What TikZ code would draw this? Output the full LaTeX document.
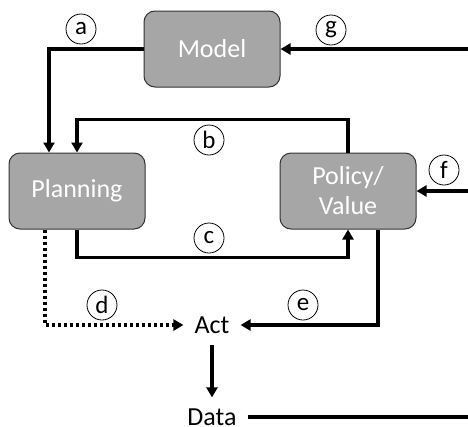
\documentclass[tikz,border=0pt]{standalone}
\usepackage{fontspec}
\setmainfont{Carlito}
\usepackage{tikz}
\usetikzlibrary{arrows.meta,positioning}
\definecolor{boxgray}{HTML}{A6A6A6}

\begin{document}
\begin{tikzpicture}[x=1pt, y=-1pt,
   >={Triangle[length=10pt,width=11pt]},
   block/.style={draw=black!80, line width=1pt, fill=boxgray, rounded corners=11pt,
     minimum width=136pt, minimum height=76pt, text=white, align=center,
     font=\fontsize{26}{30}\selectfont, inner sep=0pt},
   word/.style={font=\fontsize{26}{30}\selectfont, inner sep=11pt},
   tag/.style={draw, circle, line width=0.8pt, minimum size=30pt, inner sep=0pt,
     font=\fontsize{25}{25}\selectfont},
   flow/.style={line width=3.2pt, ->}]
   \useasboundingbox (0,0) rectangle (468,426);
   \node[block] (model) at (212,49) {Model};
   \node[block] (plan) at (77,191) {Planning};
   \node[block] (policy) at (348,191) {Policy/\\Value};
   \node[word] (act) at (212,325) {Act};
   \node[word] (data) at (212,417) {Data};
   \coordinate (gin) at (468,49);
   \coordinate (fin) at (468,191);
   \coordinate (dout) at (468,417);
   \draw[flow] (model.west) -| ([xshift=-28pt]plan.north);
   \draw[flow] (policy.north) -- ++(0,-33) -| (plan.north);
   \draw[flow] (plan.south) -- ++(0,28) -| (policy.south);
   \draw[flow, dash pattern=on 3pt off 3pt] ([xshift=-32pt]plan.south) |- (act.west);
   \draw[flow] ([xshift=30pt]policy.south) |- (act.east);
   \draw[flow] (fin) -- (policy.east);
   \draw[flow] (gin) -- (model.east);
   \draw[flow] (act) -- (data);
   \draw[line width=3.2pt] (data.east) -- (dout);
   \node[tag] (la) at (81,29) {a};
   \node[tag] (lb) at (209,140) {b};
   \node[tag] (lc) at (209,238) {c};
   \node[tag] (ld) at (102,305) {d};
   \node[tag] (le) at (303,305) {e};
   \node[tag] (lf) at (444,170) {f};
   \node[tag] (lg) at (331,30) {g};
\end{tikzpicture}
\end{document}
